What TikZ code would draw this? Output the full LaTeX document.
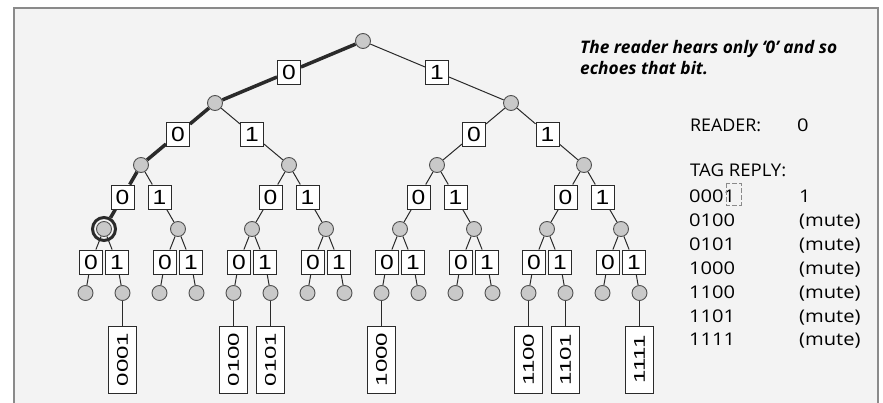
\documentclass[tikz,border=0pt]{standalone}
\usepackage{fontspec}
\setmainfont{Liberation Sans}
\newfontfamily\osfont{Open Sans}
\usetikzlibrary{calc}
\pgfdeclarelayer{back}
\pgfdeclarelayer{edges}
\pgfsetlayers{back,edges,main}
\definecolor{bgc}{HTML}{F3F3F3}
\definecolor{framec}{HTML}{8A8A8A}
\definecolor{nodefill}{HTML}{C9C9C9}
\definecolor{nodeline}{HTML}{505050}
\definecolor{edgec}{HTML}{2A2A2A}
\newcommand\bd[1]{\scalebox{1.2}[1]{#1}}
\tikzset{
  vtx/.style={circle, draw=nodeline, fill=nodefill, line width=0.9pt, minimum size=15pt, inner sep=0pt},
  bit/.style={draw=edgec, fill=white, line width=0.9pt, minimum width=23pt, minimum height=24pt, inner sep=0pt, font=\fontsize{20.5}{20.5}\selectfont},
  tagbox/.style={draw=edgec, fill=white, line width=0.9pt, rotate=90, minimum width=67pt, minimum height=28pt, inner sep=0pt, font=\fontsize{15.5}{15.5}\selectfont},
  edg/.style={draw=edgec, line width=1pt},
  hot/.style={draw=edgec, line width=3.5pt},
  txt/.style={anchor=base west, inner sep=0pt, font=\osfont\fontsize{17.5}{17.5}\selectfont},
  captxt/.style={anchor=base west, inner sep=0pt, font=\osfont\bfseries\itshape\fontsize{17.3}{17.3}\selectfont},
}
\begin{document}
\begin{tikzpicture}[x=1pt,y=-1pt]
\useasboundingbox (0,0) rectangle (883,403);
\begin{pgfonlayer}{back}
  \fill[white] (0,0) rectangle (883,403);
  \fill[bgc] (14,8) rectangle (878,420);
  \draw[framec, line width=1.5pt] (14,420) -- (14,8) -- (878,8) -- (878,420);
\end{pgfonlayer}

% upper levels
\node[vtx] (r) at (363,41) {};
\node[vtx] (a) at (215,103) {};
\node[vtx] (b) at (511,103) {};
\node[vtx] (aa) at (141,165) {};
\node[vtx] (ab) at (289,165) {};
\node[vtx] (ba) at (437,165) {};
\node[vtx] (bb) at (584,165) {};
\node[bit] (ta) at (289,72) {\bd{0}};
\node[bit] (tb) at (437,72) {\bd{1}};
\node[bit] (taa) at (178,134) {\bd{0}};
\node[bit] (tab) at (252,134) {\bd{1}};
\node[bit] (tba) at (474,134) {\bd{0}};
\node[bit] (tbb) at (547.5,134) {\bd{1}};

% ring on the node being addressed
\node[circle, draw=edgec, line width=3pt, minimum size=23pt, inner sep=0pt] (ring) at (104,229) {};

\foreach \i/\x/\p/\d in {0/104/aa/0,1/178/aa/1,2/252/ab/0,3/326/ab/1,4/400/ba/0,5/474/ba/1,6/547/bb/0,7/621/bb/1}{
  \node[vtx] (n\i) at (\x,229) {};
  \path (\p) -- (n\i) node[midway, bit] (t\i) {\bd{\d}};
  \node[bit] (u\i0) at (\x-13,262) {\bd{0}};
  \node[bit] (u\i1) at (\x+13,262) {\bd{1}};
  \node[vtx] (n\i0) at (\x-18.5,293) {};
  \node[vtx] (n\i1) at (\x+18.5,293) {};
  \begin{pgfonlayer}{edges}
    \draw[edg] (n\i) -- (u\i0) -- (n\i0);
    \draw[edg] (n\i) -- (u\i1) -- (n\i1);
  \end{pgfonlayer}
}

\begin{pgfonlayer}{edges}
  \draw[edg] (r) -- (tb) -- (b);
  \draw[edg] (a) -- (tab) -- (ab);
  \draw[edg] (b) -- (tba) -- (ba);
  \draw[edg] (b) -- (tbb) -- (bb);
  \foreach \i/\p in {1/aa,2/ab,3/ab,4/ba,5/ba,6/bb,7/bb}{
    \draw[edg] (\p) -- (t\i) -- (n\i);
  }
  \draw[hot] (r) -- (ta) -- (a) -- (taa) -- (aa) -- (t0) -- (ring);
\end{pgfonlayer}

% tag boxes
\foreach \l/\n in {0001/n01,0100/n20,0101/n21,1000/n40,1100/n60,1101/n61,1111/n71}{
  \node[tagbox] (g\l) at ([yshift=-66.5pt]\n) {\scalebox{1.55}[1]{\l}};
  \begin{pgfonlayer}{edges}
    \draw[edg] (\n) -- (g\l);
  \end{pgfonlayer}
}

% text on the right
\node[captxt] (cap1) at (580,54) {The reader hears only ‘0’ and so};
\node[captxt] (cap2) at (580,75) {echoes that bit.};
\node[txt] (rd) at (690,132) {\scalebox{1.02}[1]{READER:}};
\node[txt] (rdv) at (797,132) {\scalebox{1.15}[1]{0}};
\node[txt] (tr) at (690,177) {\scalebox{1.06}[1]{TAG REPLY:}};
\foreach \k/\c/\v in {0/0001/1,1/0100/(mute),2/0101/(mute),3/1000/(mute),4/1100/(mute),5/1101/(mute),6/1111/(mute)}{
  \node[txt] (c\c) at (689,203+23.8*\k) {\scalebox{1.15}[1]{\c}};
  \node[txt] (v\c) at (799,203+23.8*\k) {\scalebox{1.15}[1]{\v}};
}
\draw[framec, line width=0.8pt, dash pattern=on 5pt off 2pt] (726,183) rectangle (741,205);
\end{tikzpicture}
\end{document}
